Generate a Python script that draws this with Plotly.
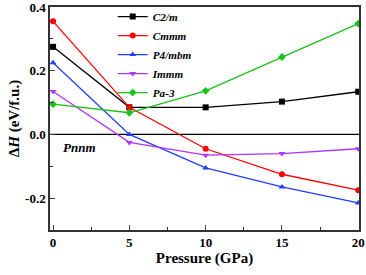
import plotly.graph_objects as go

pressure = [0, 5, 10, 15, 20]
c2m = [0.275, 0.085, 0.085, 0.103, 0.134]
cmmm = [0.355, 0.085, -0.045, -0.125, -0.175]
p4mbm = [0.225, 0.0, -0.105, -0.165, -0.215]
immm = [0.135, -0.025, -0.065, -0.060, -0.045]
pa3 = [0.095, 0.068, 0.137, 0.243, 0.348]

series = [
    ("C2/m", c2m, "#000000", "square"),
    ("Cmmm", cmmm, "#ff0000", "circle"),
    ("P4/mbm", p4mbm, "#1f3fff", "triangle-up"),
    ("Immm", immm, "#b033ff", "triangle-down"),
    ("Pa-3", pa3, "#19c219", "diamond"),
]

fig = go.Figure()
fig.add_hline(y=0, line=dict(color="black", width=1.3), layer="below")
for name, vals, col, sym in series:
    fig.add_trace(go.Scatter(
        x=pressure, y=vals, mode="lines+markers", name=f"<i>{name}</i>",
        line=dict(color=col, width=1.3),
        marker=dict(symbol=sym, size=6, color=col),
    ))

font = "Liberation Serif, Times New Roman, serif"
fig.update_layout(
    width=366, height=275,
    margin=dict(l=50, r=7, t=7, b=45, autoexpand=False),
    plot_bgcolor="white", paper_bgcolor="white",
    font=dict(family=font, size=13, color="black"),
    showlegend=True,
    legend=dict(x=0.203, y=1.022, xanchor="left", yanchor="top",
                bgcolor="rgba(0,0,0,0)", font=dict(size=11.2, family=font, weight="bold"),
                tracegroupgap=0, itemwidth=30),
    annotations=[dict(x=0.5, y=-0.04, xref="x", yref="y", text="<b><i>Pnnm</i></b>",
                      showarrow=False, xanchor="left", font=dict(size=13, family=font))],
)
fig.update_xaxes(
    range=[-0.2, 20.05], tickvals=[0, 5, 10, 15, 20], ticks="inside", ticklen=5,
    minor=dict(tickvals=[2.5, 7.5, 12.5, 17.5], ticks="inside", ticklen=3, tickcolor="#333"),
    showline=True, linecolor="#333", linewidth=1.5, mirror=True, showgrid=False, zeroline=False,
    tickfont=dict(size=13, weight="bold", family=font), ticklabeloverflow="allow",
    title=dict(text="<b>Pressure (GPa)</b>", font=dict(size=15, family=font), standoff=3),
)
fig.update_yaxes(
    range=[-0.3, 0.4], tickvals=[-0.2, 0.0, 0.2, 0.4], ticktext=["-0.2", "0.0", "0.2", "0.4"],
    ticks="inside", ticklen=5,
    minor=dict(tickvals=[-0.1, 0.1, 0.3], ticks="inside", ticklen=3, tickcolor="#333"),
    showline=True, linecolor="#333", linewidth=1.5, mirror=True, showgrid=False, zeroline=False,
    tickfont=dict(size=13, weight="bold", family=font), ticklabeloverflow="allow",
    title=dict(text="<b>Δ<i>H</i> (eV/f.u.)</b>", font=dict(size=15, family=font), standoff=2),
)
fig.write_html("out.html", config={"displayModeBar": False},
               post_script="document.body.style.margin='0';document.body.style.overflow='hidden';")
